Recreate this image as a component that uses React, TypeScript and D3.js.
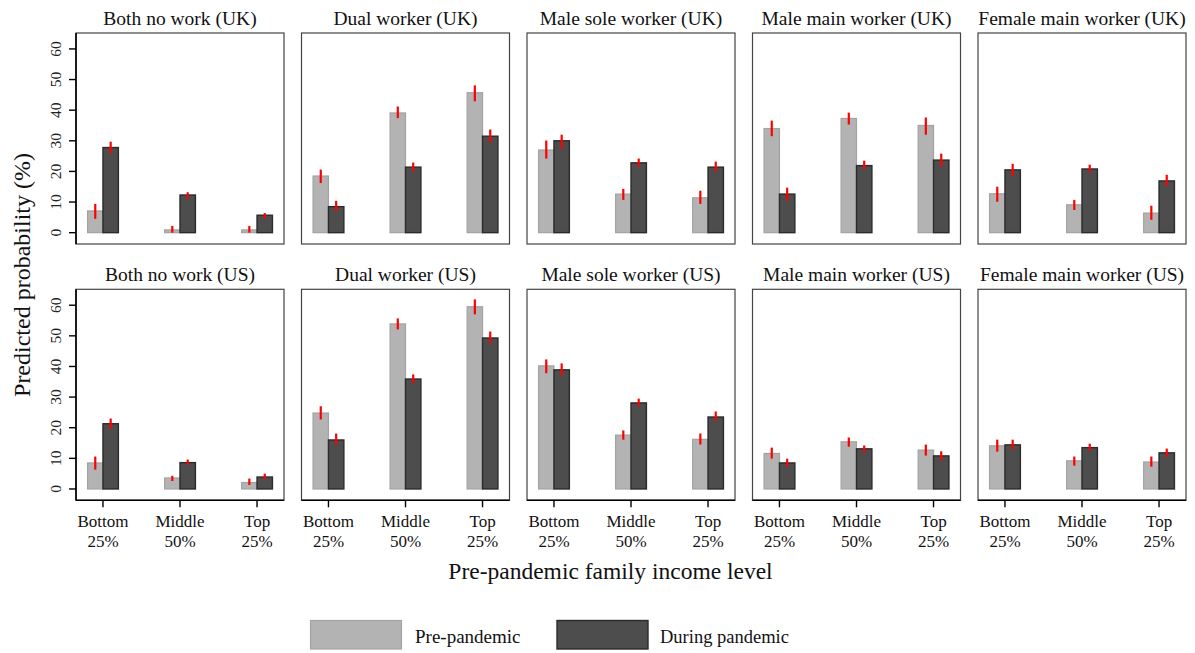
import React from "react";
import * as d3 from "d3";

// Household work arrangement by parental income group, UK and US
const incomeLevels = ["Bottom|25%", "Middle|50%", "Top|25%"];
const householdTypes = [
  "Both no work",
  "Dual worker",
  "Male sole worker",
  "Male main worker",
  "Female main worker",
];
const countries = ["UK", "US"];

// Predicted probabilities (%) per household type × income level
const preUK = [
  [7.1, 0.9, 0.9],
  [18.5, 39.1, 45.7],
  [27.0, 12.6, 11.4],
  [34.0, 37.3, 35.0],
  [12.7, 9.1, 6.4],
];
const duringUK = [
  [27.8, 12.3, 5.7],
  [8.5, 21.4, 31.5],
  [30.0, 22.8, 21.4],
  [12.6, 21.9, 23.7],
  [20.5, 20.8, 16.9],
];
const preUS = [
  [8.5, 3.6, 2.1],
  [24.8, 53.9, 59.5],
  [40.2, 17.6, 16.2],
  [11.6, 15.4, 12.7],
  [14.1, 9.2, 8.8],
];
const duringUS = [
  [21.3, 8.6, 3.9],
  [16.0, 35.9, 49.3],
  [38.9, 28.1, 23.5],
  [8.5, 13.1, 10.8],
  [14.4, 13.5, 11.8],
];

// Confidence intervals [low, high]
const preUKci = [
  [[4.5, 9.4], [-0.2, 2.2], [-0.2, 2.2]],
  [[16.2, 20.6], [37.4, 41.2], [42.9, 48.1]],
  [[24.2, 30.1], [10.7, 14.3], [9.4, 13.7]],
  [[31.5, 36.6], [35.3, 39.2], [32.0, 37.6]],
  [[10.1, 15.0], [7.4, 10.7], [4.2, 8.8]],
];
const duringUKci = [
  [[25.9, 29.7], [11.0, 13.2], [4.6, 6.4]],
  [[7.0, 10.4], [20.0, 22.9], [29.5, 33.7]],
  [[27.4, 32.0], [21.5, 24.2], [20.0, 23.2]],
  [[10.4, 14.7], [20.7, 23.5], [21.6, 25.8]],
  [[18.6, 22.5], [19.6, 22.2], [15.3, 18.9]],
];
const preUSci = [
  [[6.3, 10.6], [2.6, 4.3], [1.3, 3.4]],
  [[22.7, 27.0], [52.1, 55.7], [57.0, 61.9]],
  [[37.8, 42.3], [16.1, 19.1], [14.5, 18.1]],
  [[9.9, 13.5], [13.8, 16.8], [10.9, 14.5]],
  [[12.2, 16.1], [7.6, 10.6], [7.3, 10.6]],
];
const duringUSci = [
  [[19.7, 23.0], [7.9, 9.6], [3.1, 5.0]],
  [[14.5, 18.1], [34.5, 37.4], [47.6, 51.4]],
  [[37.1, 41.0], [27.0, 29.5], [22.3, 25.3]],
  [[7.2, 9.9], [11.8, 14.2], [9.3, 12.3]],
  [[12.9, 16.1], [12.5, 14.8], [10.5, 13.2]],
];

const yTicks = [0, 10, 20, 30, 40, 50, 60];
const seriesNames = ["Pre-pandemic", "During pandemic"];

const W = 1195;
const H = 653;
const FONT = "Liberation Serif, Times New Roman, Tinos, Noto Serif, DejaVu Serif, serif";
const panelW = 208;
const panelH = 211;
const panelLeft0 = 76;
const panelStep = 225.5;
const rowTops = [33, 289.3];

const LIGHT = "#b3b3b3";
const LIGHT_STROKE = "#a3a3a3";
const DARK = "#4d4d4d";
const DARK_STROKE = "#2b2b2b";

const x = d3.scaleLinear().domain([0.65, 3.35]).range([0, panelW]);
const y = d3.scaleLinear().domain([-3.7, 65.2]).range([panelH, 0]);
const barW = x(1.2) - x(1);

const rows = [
  { pre: preUK, during: duringUK, preCi: preUKci, duringCi: duringUKci },
  { pre: preUS, during: duringUS, preCi: preUSci, duringCi: duringUSci },
];

function Panel({ r, c }: { r: number; c: number }) {
  const data = rows[r];
  const left = panelLeft0 + c * panelStep;
  const top = rowTops[r];
  const title = `${householdTypes[c]} (${countries[r]})`;
  return (
    <g transform={`translate(${left},${top})`}>
      <text x={panelW / 2} y={-8} textAnchor="middle" fontSize={19.5} fill="#111">
        {title}
      </text>
      <rect x={0} y={0} width={panelW} height={panelH} fill="none" stroke="#444" strokeWidth={1.2} />
      {incomeLevels.map((_, i) => {
        const cx = x(i + 1);
        const pv = data.pre[c][i];
        const dv = data.during[c][i];
        const pci = data.preCi[c][i];
        const dci = data.duringCi[c][i];
        return (
          <g key={i}>
            <rect
              x={cx - barW}
              y={y(pv)}
              width={barW}
              height={y(0) - y(pv)}
              fill={LIGHT}
              stroke={LIGHT_STROKE}
              strokeWidth={1.2}
            />
            <rect
              x={cx}
              y={y(dv)}
              width={barW}
              height={y(0) - y(dv)}
              fill={DARK}
              stroke={DARK_STROKE}
              strokeWidth={1.4}
            />
            <line
              x1={cx - barW / 2}
              x2={cx - barW / 2}
              y1={y(Math.max(pci[0], 0))}
              y2={y(pci[1])}
              stroke="#ff0000"
              strokeWidth={2.2}
            />
            <line
              x1={cx + barW / 2}
              x2={cx + barW / 2}
              y1={y(Math.max(dci[0], 0))}
              y2={y(dci[1])}
              stroke="#ff0000"
              strokeWidth={2.2}
            />
          </g>
        );
      })}
      {c === 0 && (
        <g>
          <line x1={0} x2={0} y1={0} y2={panelH} stroke="#000" strokeWidth={1.6} />
          {yTicks.map((t) => (
            <g key={t} transform={`translate(0,${y(t)})`}>
              <line x1={-7} x2={0} stroke="#000" strokeWidth={1.4} />
              <text transform="translate(-15.5,0) rotate(-90)" textAnchor="middle" fontSize={15.5} fill="#222">
                {t}
              </text>
            </g>
          ))}
        </g>
      )}
      {r === 1 && (
        <g>
          <line x1={0} x2={panelW} y1={panelH} y2={panelH} stroke="#000" strokeWidth={1.6} />
          {incomeLevels.map((lab, i) => {
            const [a, b] = lab.split("|");
            return (
              <g key={i} transform={`translate(${x(i + 1)},${panelH})`}>
                <line y1={0} y2={7} stroke="#000" strokeWidth={1.4} />
                <text x={0} y={27} textAnchor="middle" fontSize={17} fill="#111">
                  {a}
                </text>
                <text x={0} y={46.5} textAnchor="middle" fontSize={17} fill="#111">
                  {b}
                </text>
              </g>
            );
          })}
        </g>
      )}
    </g>
  );
}

export default function App() {
  const cells: { r: number; c: number }[] = [];
  rows.forEach((_, r) => householdTypes.forEach((_, c) => cells.push({ r, c })));
  return (
    <svg
      width={W}
      height={H}
      fontFamily={FONT}
      style={{ position: "absolute", left: 0, top: 0, background: "#fff", fontFamily: FONT }}
    >
      <rect width={W} height={H} fill="#fff" />
      {cells.map(({ r, c }) => (
        <Panel key={`${r}-${c}`} r={r} c={c} />
      ))}
      <text transform="translate(30,275) rotate(-90)" textAnchor="middle" fontSize={24} fill="#111">
        Predicted probability (%)
      </text>
      <text x={610.5} y={579} textAnchor="middle" fontSize={23.5} fill="#111">
        Pre-pandemic family income level
      </text>
      <g>
        <rect x={310.5} y={620.5} width={91} height={28.5} fill={LIGHT} stroke={LIGHT_STROKE} strokeWidth={1.2} />
        <text x={415} y={643} fontSize={19} fill="#111">
          {seriesNames[0]}
        </text>
        <rect x={557} y={620.5} width={91} height={28.5} fill={DARK} stroke={DARK_STROKE} strokeWidth={1.4} />
        <text x={660} y={643} fontSize={18.5} fill="#111">
          {seriesNames[1]}
        </text>
      </g>
    </svg>
  );
}
